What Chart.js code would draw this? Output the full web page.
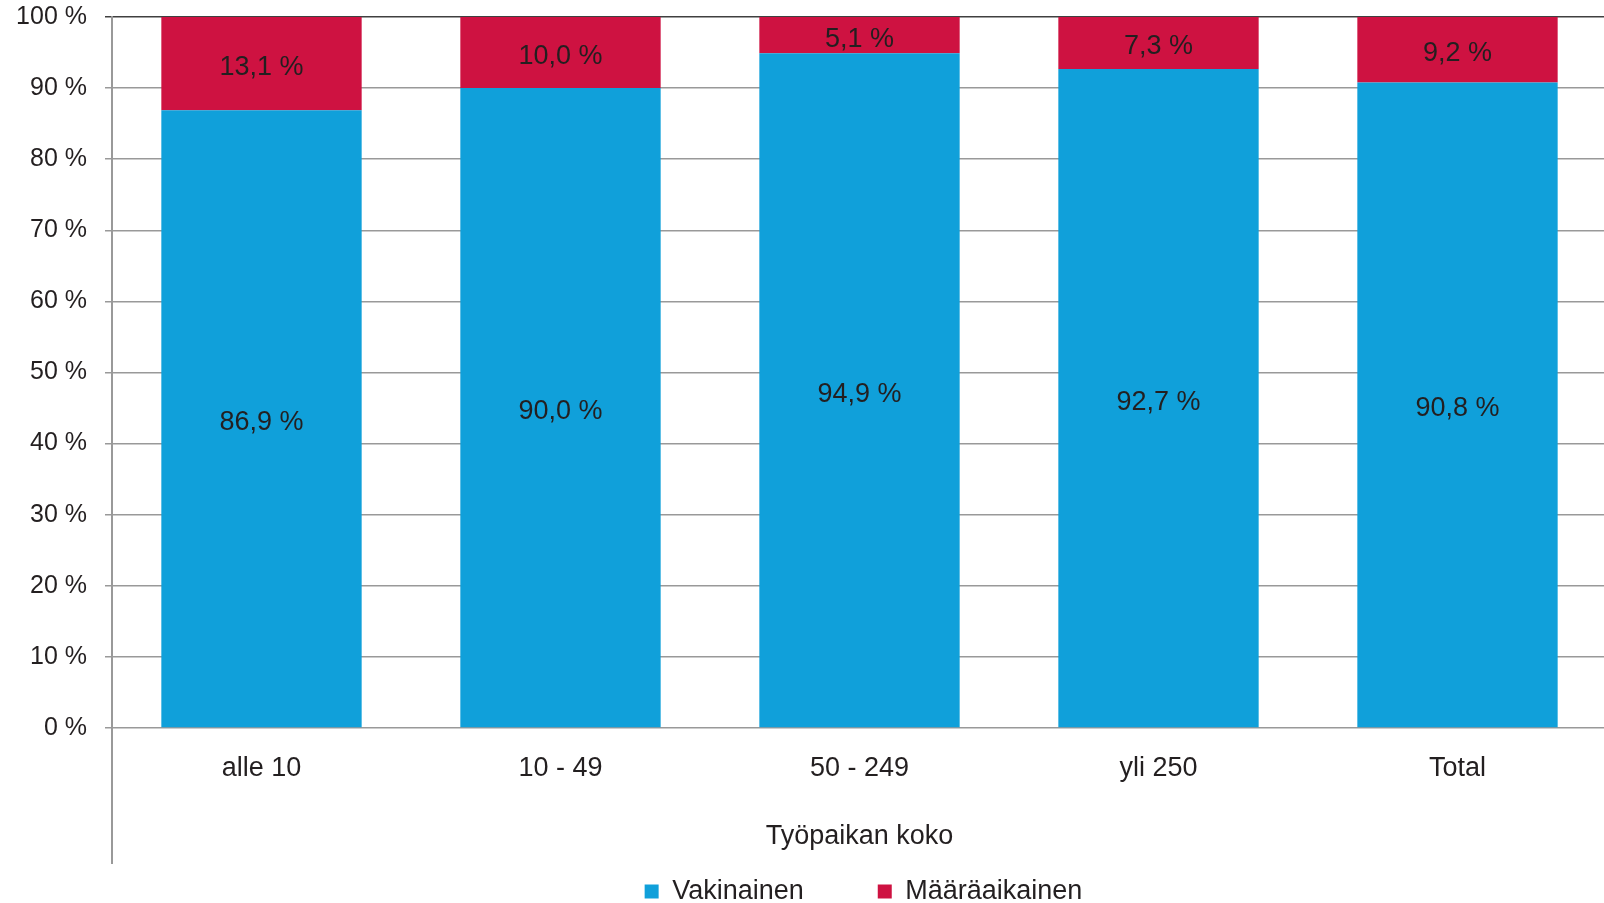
<!DOCTYPE html>
<html>
<head>
<meta charset="utf-8">
<script src="https://cdn.jsdelivr.net/npm/chart.js@4.4.1/dist/chart.umd.min.js"></script>
<style>
    html, body { margin: 0; padding: 0; background: #fff; overflow: hidden; }
    #chart { display: block; }
</style>
</head>
<body>
<canvas id="chart" width="1607" height="903"></canvas>
<script>
const categories = ['alle 10', '10 - 49', '50 - 249', 'yli 250', 'Total'];
const vakinainen = [86.9, 90.0, 94.9, 92.7, 90.8];
const maaraaikainen = [13.1, 10.0, 5.1, 7.3, 9.2];
const yTicks = [0, 10, 20, 30, 40, 50, 60, 70, 80, 90, 100];

const textColor = '#231f20';
const fontFamily = '"Liberation Sans", Arial, sans-serif';

const formatPct = v => v.toFixed(1).replace('.', ',') + ' %';

// value labels in the middle of each bar segment
const barLabels = {
    id: 'barLabels',
    afterDatasetsDraw(chart) {
        const ctx = chart.ctx;
        ctx.save();
        ctx.font = '27px ' + fontFamily;
        ctx.fillStyle = textColor;
        ctx.textAlign = 'center';
        ctx.textBaseline = 'middle';
        chart.data.datasets.forEach((ds, i) => {
            chart.getDatasetMeta(i).data.forEach((bar, j) => {
                const p = bar.getCenterPoint();
                ctx.fillText(formatPct(ds.data[j]), p.x, p.y + 4);
            });
        });
        ctx.restore();
    }
};

// the value axis line runs on down through the category label area,
// and the legend sits a bit right of centre like in the original
const extras = {
    id: 'extras',
    afterLayout(chart) {
        chart.legend.left += 60;
        chart.legend.right += 60;
    },
    afterDraw(chart) {
        const ctx = chart.ctx;
        const area = chart.chartArea;
        const x = chart.scales.x;
        ctx.save();
        ctx.strokeStyle = '#999';
        ctx.lineWidth = 2;
        ctx.beginPath();
        ctx.moveTo(area.left, area.bottom);
        ctx.lineTo(area.left, x.bottom);
        ctx.stroke();
        ctx.restore();
    }
};

new Chart(document.getElementById('chart'), {
    type: 'bar',
    data: {
        labels: categories,
        datasets: [
            { label: 'Vakinainen        ', data: vakinainen, backgroundColor: '#10a0da', borderWidth: 0 },
            { label: 'Määräaikainen', data: maaraaikainen, backgroundColor: '#ce1241', borderWidth: 0 }
        ]
    },
    options: {
        responsive: false,
        animation: false,
        layout: { padding: { top: 17, right: 0, left: 0, bottom: -12 } },
        datasets: { bar: { categoryPercentage: 1, barPercentage: 0.67 } },
        plugins: {
            tooltip: { enabled: false },
            legend: {
                position: 'bottom',
                labels: {
                    boxWidth: 14,
                    boxHeight: 14,
                    padding: 14,
                    color: textColor,
                    font: { family: fontFamily, size: 27 }
                }
            }
        },
        scales: {
            x: {
                stacked: true,
                afterFit: scale => { scale.height = 136; },
                grid: { display: false, drawTicks: false },
                border: { display: false },
                ticks: { padding: 24, color: textColor, font: { family: fontFamily, size: 27 } },
                title: {
                    display: true,
                    text: 'Työpaikan koko',
                    color: textColor,
                    padding: { top: 0, bottom: 11 },
                    font: { family: fontFamily, size: 27 }
                }
            },
            y: {
                stacked: true,
                min: 0,
                max: 100,
                afterFit: scale => {
                    scale.width = 112;
                    scale.paddingTop = 0;
                    scale.paddingBottom = 0;
                },
                afterBuildTicks: scale => { scale.ticks = yTicks.map(v => ({ value: v })); },
                grid: {
                    color: ctx => ctx.tick && ctx.tick.value === 100 ? '#404040' : '#999',
                    lineWidth: 1.5,
                    tickLength: 7
                },
                border: { color: '#999', width: 2 },
                ticks: {
                    padding: 18,
                    color: textColor,
                    font: { family: fontFamily, size: 25 },
                    callback: v => v + ' %'
                }
            }
        }
    },
    plugins: [barLabels, extras]
});
</script>
</body>
</html>
